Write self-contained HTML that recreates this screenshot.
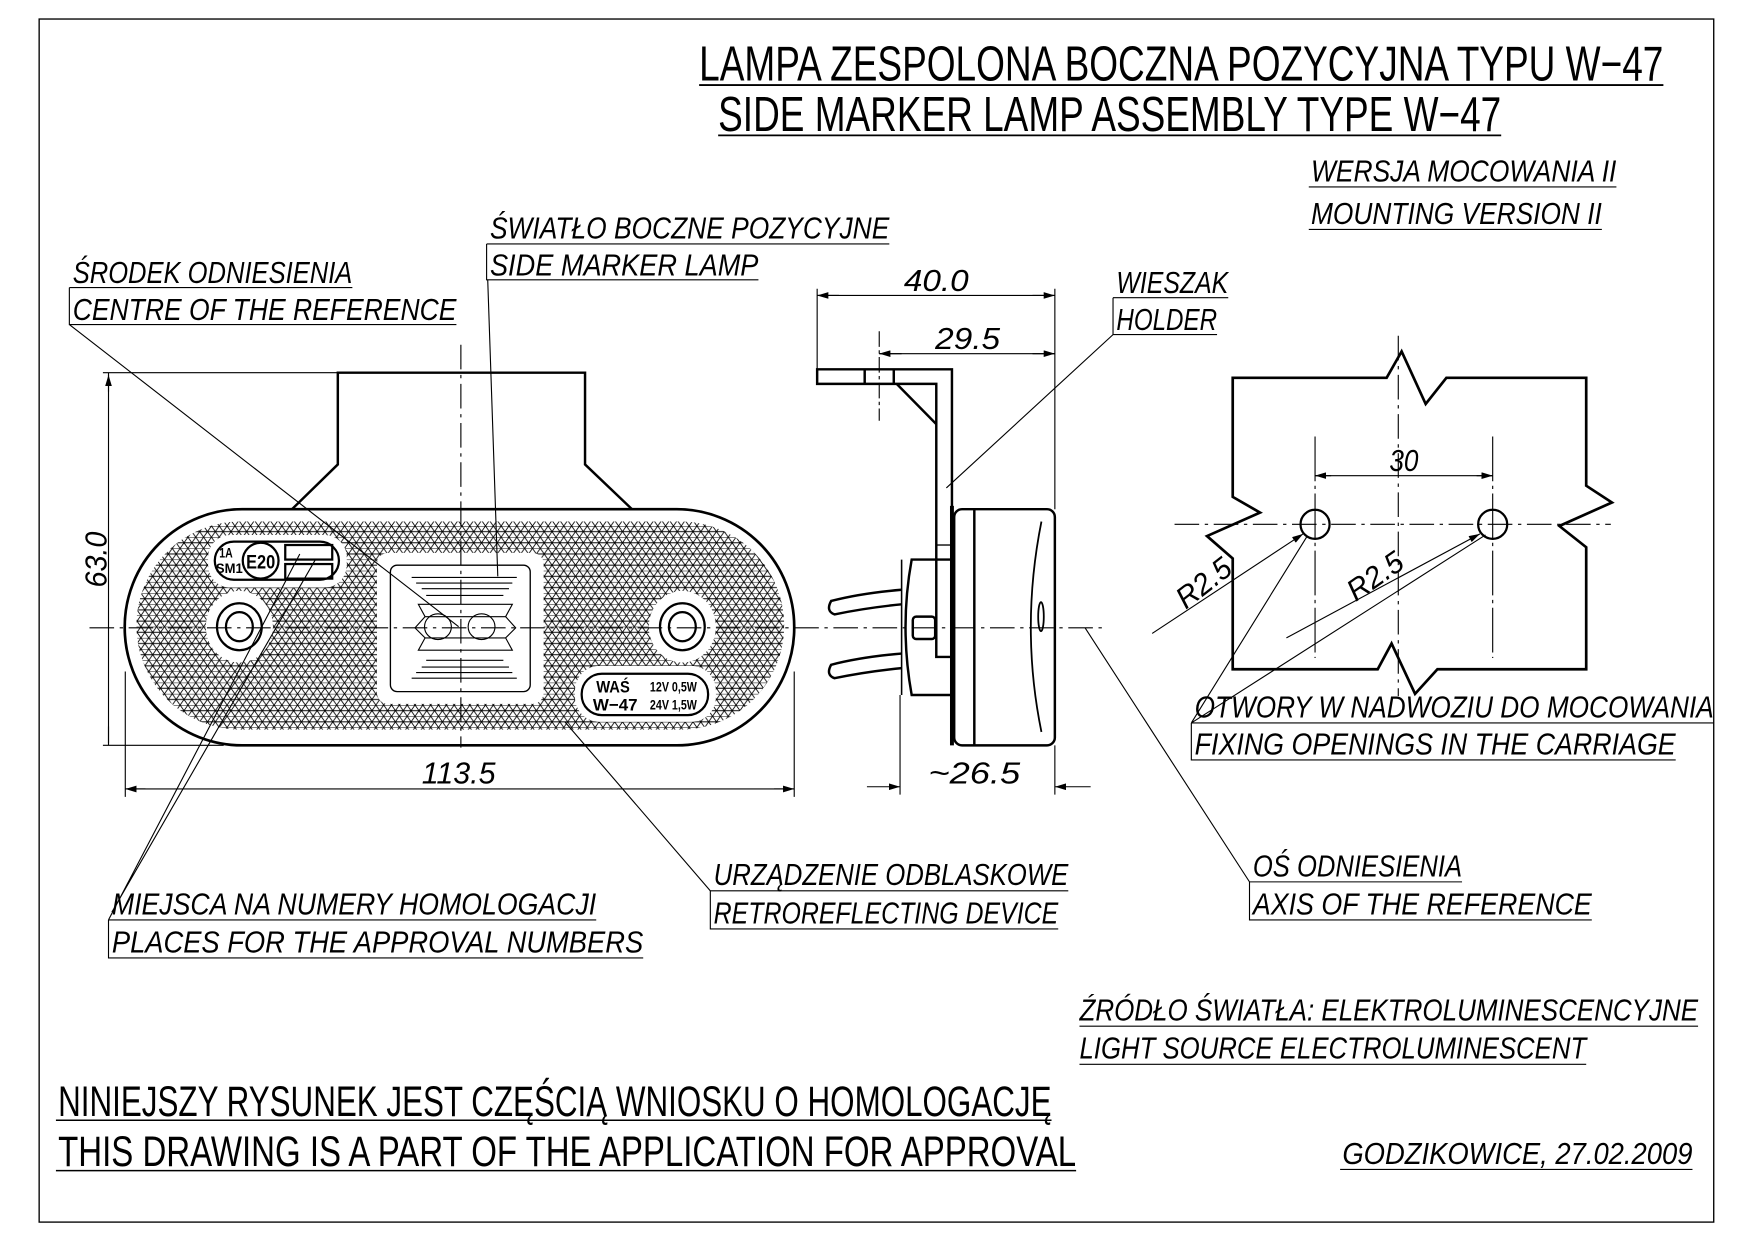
<!DOCTYPE html>
<html><head><meta charset="utf-8"><style>
html,body{margin:0;padding:0;background:#fff}
svg{display:block}
text{font-family:"Liberation Sans",sans-serif;fill:#000}
.l{font-style:italic;font-size:27px}
</style></head><body>
<svg width="1754" height="1240" viewBox="0 0 1568 1108" preserveAspectRatio="none" xmlns="http://www.w3.org/2000/svg">
<defs>
<pattern id="h" width="7" height="10" patternUnits="userSpaceOnUse">
<path d="M0 0L3.5 5L7 0M0 10L3.5 5L7 10M0 0H7M0 5H7" stroke="#000" stroke-width="0.8" fill="none"/>
</pattern>
<clipPath id="oc"><rect x="122" y="466" width="579" height="186" rx="93"/></clipPath>
<marker id="a" viewBox="0 0 10 6" refX="10" refY="3" markerWidth="10" markerHeight="6" markerUnits="userSpaceOnUse" orient="auto-start-reverse"><path d="M0 0L10 3L0 6z" fill="#000"/></marker>
</defs>
<g fill="none" stroke="#000">
<rect x="35" y="17" width="1497" height="1075" stroke-width="1.2"/>

<g clip-path="url(#oc)"><rect x="110" y="460" width="600" height="200" fill="url(#h)" stroke="none"/></g>
<g fill="#fff" stroke="none">
<ellipse cx="214" cy="560" rx="30" ry="32"/>
<ellipse cx="610" cy="560" rx="30" ry="32"/>
<rect x="337" y="494" width="149" height="135" rx="10"/>
<rect x="186" y="478" width="124" height="47" rx="20"/>
<rect x="514" y="595" width="126" height="50" rx="22"/>
</g>
<path d="M261 455L302 415V333H523V415L565 455" stroke-width="2.2"/>
<rect x="111.5" y="455" width="598.5" height="211" rx="105" stroke-width="2.4"/>
<ellipse cx="214" cy="560" rx="20" ry="21" stroke-width="2"/>
<ellipse cx="214" cy="560" rx="12" ry="13" stroke-width="2"/>
<ellipse cx="610" cy="560" rx="20" ry="21" stroke-width="2"/>
<ellipse cx="610" cy="560" rx="12" ry="13" stroke-width="2"/>
<rect x="349" y="505" width="125" height="113" rx="6" stroke-width="1.2"/>
<g stroke-width="1">
<path d="M368 516H462M372 521H458M377 526H455M381 532H450"/>
<path d="M368 606H462M372 601H458M377 596H455M381 590H450"/>
<path d="M374 540H458L452 551H380Z"/>
<path d="M380 570H452L458 581H374Z"/>
<path d="M380 551L371 561L380 570M452 551L461 561L452 570"/>
<ellipse cx="391.5" cy="560" rx="12" ry="11.5"/>
<ellipse cx="430.5" cy="560" rx="12" ry="11.5"/>
</g>
<rect x="192" y="484" width="111" height="34" rx="17" stroke-width="2"/>
<circle cx="233" cy="501" r="16" stroke-width="2"/>
<rect x="255" y="487" width="42" height="13" stroke-width="2"/>
<rect x="255" y="504" width="42" height="13" stroke-width="2"/>
<rect x="520" y="602" width="113" height="37" rx="18" stroke-width="2"/>

<path d="M412 308V668" stroke-width="1" stroke-dasharray="22 5 3 5"/>
<path d="M80 561H985" stroke-width="1" stroke-dasharray="22 5 3 5"/>

<g stroke-width="1">
<path d="M92 333H302M92 666H200M97 333V666" />
<path d="M97 335V350M97 664V649" marker-start="url(#a)"/>
<path d="M112 600V712M710 600V712M112 705H710" />
<path d="M112 705H130" marker-start="url(#a)"/>
<path d="M710 705H692" marker-start="url(#a)"/>

<path d="M62 257V290H408M62 290L410 560M62 257H315"/>
<path d="M435 218H795M435 218V250H678M436 250L445 515"/>
<path d="M97 822V856H575M97 822H533M97 822L268 495M100 815L282 500"/>
<path d="M635 796V830H946M635 796H955M635 796L505 645"/>
<path d="M1117 788V822H1423M1117 788H1307M1117 788L970 561"/>
<path d="M995 266V299H1088M995 266H1098M995 299L846 436"/>
<path d="M1065 646V679H1498M1065 646H1532M1065 646L1168 480M1065 646L1328 478"/>
</g>

<g stroke-width="2.2">
<path d="M730.5 330H851V587H837V343H730.5Z"/>
<path d="M773 330V343M799 330V343M801.6 343L837 379"/>
<path d="M837 487H851" stroke-width="1.2"/>
<rect x="853" y="455" width="90" height="211" rx="7"/>
<path d="M871 455V666"/>
<path d="M931 466Q912 561 931 654" stroke-width="1.6"/>
<ellipse cx="930.6" cy="551" rx="2.5" ry="13" stroke-width="1.6"/>
<path d="M851 452V666" stroke-width="3.5"/>
<path d="M853 500H815Q804 560 815 621H853"/>
<path d="M806 500V621" stroke-width="1.4"/>
<rect x="816" y="551" width="20" height="20" rx="3"/>
<path d="M806 527Q770 530 743 537Q738 546 746 549Q775 543 806 540"/>
<path d="M806 584Q770 587 743 594Q738 603 746 606Q775 600 806 597"/>
</g>
<g stroke-width="1">
<path d="M786 296V376" stroke-dasharray="14 3 3 3"/>
<path d="M730.5 258V330M943 258V455M730.5 264H943"/>
<path d="M730.5 264H750" marker-start="url(#a)"/>
<path d="M943 264H923" marker-start="url(#a)"/>
<path d="M786 316H943"/>
<path d="M786 316H806" marker-start="url(#a)"/>
<path d="M943 316H923" marker-start="url(#a)"/>
<path d="M804.6 621V710M943 666V710"/>
<path d="M775 703H804.6" marker-end="url(#a)"/>
<path d="M975 703H943" marker-end="url(#a)"/>
</g>

<path d="M1102 337.6H1239.6L1253 314L1274.5 361L1293 337.6H1418V434L1441 449L1394 470L1418 489V598H1285L1265 620L1244 575L1231.6 598H1102V499L1079 479L1126.4 458L1102 444Z" stroke-width="2.4"/>
<g stroke-width="1">
<path d="M1050 468.5H1440" stroke-dasharray="22 5 3 5"/>
<path d="M1250 300V622" stroke-dasharray="22 5 3 5"/>
<path d="M1175.6 390V588M1334.4 390V588" stroke-dasharray="40 4 3 4"/>
<path d="M1175.6 425H1334.4"/>
<path d="M1175.6 425H1190" marker-start="url(#a)"/>
<path d="M1334.4 425H1320" marker-start="url(#a)"/>
<path d="M1030 566L1165 477" marker-end="url(#a)"/>
<path d="M1150 570L1323 477" marker-end="url(#a)"/>
</g>
<circle cx="1175.6" cy="468.5" r="13" stroke-width="2"/>
<circle cx="1334.4" cy="468.5" r="13" stroke-width="2"/>

<g stroke-width="1.6">
<path d="M625 76H1487M642 121H1342"/>
</g>
<g stroke-width="1">
<path d="M1170 167H1445M1170 205H1432M965 917H1518M965 951H1418M1198 1045H1513"/>
<path d="M50 1001H940M50 1046H962" stroke-width="1.4"/>
</g>
</g>

<g>
<text x="625" y="72" font-size="44" textLength="862" lengthAdjust="spacingAndGlyphs">LAMPA ZESPOLONA BOCZNA POZYCYJNA TYPU W−47</text>
<text x="642" y="117" font-size="44" textLength="700" lengthAdjust="spacingAndGlyphs">SIDE MARKER LAMP ASSEMBLY TYPE W−47</text>
<text class="l" x="1172" y="162" textLength="273" lengthAdjust="spacingAndGlyphs">WERSJA MOCOWANIA II</text>
<text class="l" x="1172" y="200" textLength="260" lengthAdjust="spacingAndGlyphs">MOUNTING VERSION II</text>
<text class="l" x="438" y="213" textLength="357" lengthAdjust="spacingAndGlyphs">ŚWIATŁO BOCZNE POZYCYJNE</text>
<text class="l" x="438" y="246" textLength="240" lengthAdjust="spacingAndGlyphs">SIDE MARKER LAMP</text>
<text class="l" x="65" y="253" textLength="250" lengthAdjust="spacingAndGlyphs">ŚRODEK ODNIESIENIA</text>
<text class="l" x="65" y="286" textLength="343" lengthAdjust="spacingAndGlyphs">CENTRE OF THE REFERENCE</text>
<text class="l" x="998" y="262" textLength="100" lengthAdjust="spacingAndGlyphs">WIESZAK</text>
<text class="l" x="998" y="295" textLength="90" lengthAdjust="spacingAndGlyphs">HOLDER</text>
<text class="l" x="808" y="260" textLength="58" lengthAdjust="spacingAndGlyphs">40.0</text>
<text class="l" x="836" y="312" textLength="58" lengthAdjust="spacingAndGlyphs">29.5</text>
<text class="l" x="377" y="700" textLength="66" lengthAdjust="spacingAndGlyphs">113.5</text>
<text class="l" x="830" y="700" textLength="82" lengthAdjust="spacingAndGlyphs">~26.5</text>
<text class="l" transform="translate(95,525) rotate(-90)" textLength="50" lengthAdjust="spacingAndGlyphs">63.0</text>
<text class="l" x="1242" y="421" font-size="21" textLength="26" lengthAdjust="spacingAndGlyphs">30</text>
<text class="l" transform="translate(1060,545) rotate(-38)" textLength="55" lengthAdjust="spacingAndGlyphs">R2.5</text>
<text class="l" transform="translate(1212,538) rotate(-35)" textLength="55" lengthAdjust="spacingAndGlyphs">R2.5</text>
<text class="l" x="1068" y="641" textLength="464" lengthAdjust="spacingAndGlyphs">OTWORY W NADWOZIU DO MOCOWANIA</text>
<text class="l" x="1068" y="674" textLength="430" lengthAdjust="spacingAndGlyphs">FIXING OPENINGS IN THE CARRIAGE</text>
<text class="l" x="638" y="791" textLength="317" lengthAdjust="spacingAndGlyphs">URZĄDZENIE ODBLASKOWE</text>
<text class="l" x="638" y="825" textLength="308" lengthAdjust="spacingAndGlyphs">RETROREFLECTING DEVICE</text>
<text class="l" x="1120" y="783" textLength="187" lengthAdjust="spacingAndGlyphs">OŚ ODNIESIENIA</text>
<text class="l" x="1120" y="817" textLength="303" lengthAdjust="spacingAndGlyphs">AXIS OF THE REFERENCE</text>
<text class="l" x="100" y="817" textLength="433" lengthAdjust="spacingAndGlyphs">MIEJSCA NA NUMERY HOMOLOGACJI</text>
<text class="l" x="100" y="851" textLength="475" lengthAdjust="spacingAndGlyphs">PLACES FOR THE APPROVAL NUMBERS</text>
<text class="l" x="965" y="912" textLength="553" lengthAdjust="spacingAndGlyphs">ŹRÓDŁO ŚWIATŁA: ELEKTROLUMINESCENCYJNE</text>
<text class="l" x="965" y="946" textLength="453" lengthAdjust="spacingAndGlyphs">LIGHT SOURCE ELECTROLUMINESCENT</text>
<text x="52" y="997" font-size="38" textLength="888" lengthAdjust="spacingAndGlyphs">NINIEJSZY RYSUNEK JEST CZĘŚCIĄ WNIOSKU O HOMOLOGACJĘ</text>
<text x="52" y="1042" font-size="38" textLength="910" lengthAdjust="spacingAndGlyphs">THIS DRAWING IS A PART OF THE APPLICATION FOR APPROVAL</text>
<text class="l" x="1200" y="1040" textLength="313" lengthAdjust="spacingAndGlyphs">GODZIKOWICE, 27.02.2009</text>
<text x="196" y="498" font-size="12" font-weight="bold" textLength="12" lengthAdjust="spacingAndGlyphs">1A</text>
<text x="193" y="512" font-size="12" font-weight="bold" textLength="24" lengthAdjust="spacingAndGlyphs">SM1</text>
<text x="220" y="508" font-size="17" font-weight="bold" textLength="26" lengthAdjust="spacingAndGlyphs">E20</text>
<text x="533" y="619" font-size="15" font-weight="bold" textLength="30" lengthAdjust="spacingAndGlyphs">WAŚ</text>
<text x="530" y="635" font-size="15" font-weight="bold" textLength="40" lengthAdjust="spacingAndGlyphs">W−47</text>
<text x="581" y="618" font-size="12" font-weight="bold" textLength="42" lengthAdjust="spacingAndGlyphs">12V 0,5W</text>
<text x="581" y="634" font-size="12" font-weight="bold" textLength="42" lengthAdjust="spacingAndGlyphs">24V 1,5W</text>
</g>
</svg>
</body></html>
